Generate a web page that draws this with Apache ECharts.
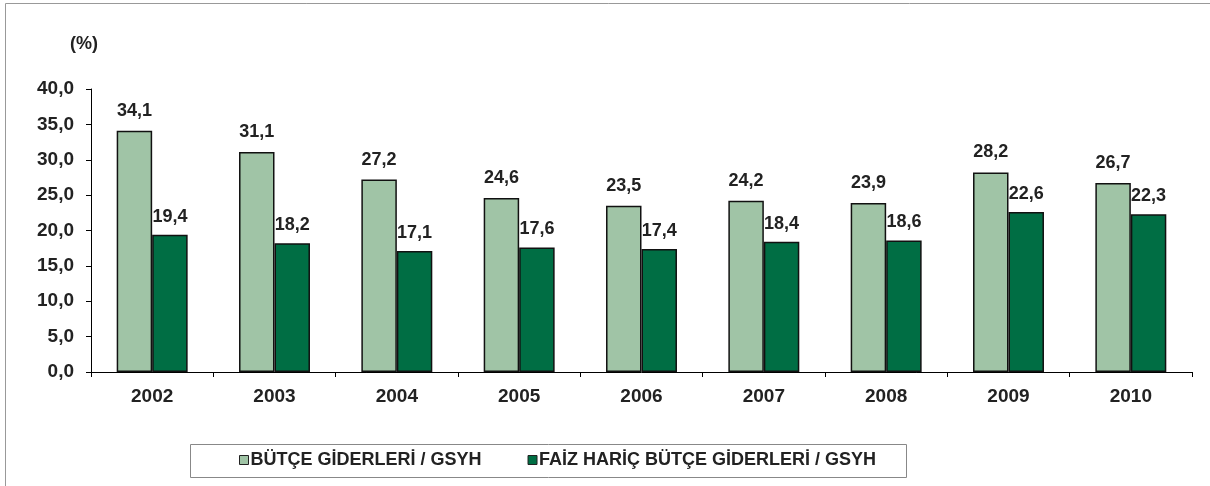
<!DOCTYPE html>
<html>
<head>
<meta charset="utf-8">
<script src="https://cdn.jsdelivr.net/npm/echarts@6/dist/echarts.min.js"></script>
<style>
  html, body { margin: 0; padding: 0; background: #fff; }
  #main { width: 1210px; height: 486px; }
</style>
</head>
<body>
<div id="main"></div>
<script>
// data
const years = ['2002', '2003', '2004', '2005', '2006', '2007', '2008', '2009', '2010'];
const butceGsyh = [34.1, 31.1, 27.2, 24.6, 23.5, 24.2, 23.9, 28.2, 26.7];
const faizHaricGsyh = [19.4, 18.2, 17.1, 17.6, 17.4, 18.4, 18.6, 22.6, 22.3];
const seriesNames = ['BÜTÇE GİDERLERİ / GSYH', 'FAİZ HARİÇ BÜTÇE GİDERLERİ / GSYH'];

const font = 'Liberation Sans, Arial, sans-serif';
const txt = '#222';
const fmt = v => v.toFixed(1).replace('.', ',');

const myChart = echarts.init(document.getElementById('main'));

const option = {
  animation: false,
  textStyle: { fontFamily: font },
  graphic: [
    {
      type: 'rect',
      shape: { x: 5.5, y: 3.5, width: 1400, height: 700 },
      style: { fill: 'none', stroke: '#999', lineWidth: 1 },
      silent: true
    },
    {
      type: 'rect',
      shape: { x: 190.5, y: 444.5, width: 716, height: 33 },
      style: { fill: '#fff', stroke: '#888', lineWidth: 1 },
      silent: true
    },
    {
      type: 'text',
      left: 70, top: 35,
      style: { text: '(%)', fill: txt, font: 'bold 18px ' + font }
    }
  ],
  legend: {
    left: 239, top: 451,
    itemWidth: 9, itemHeight: 9,
    itemGap: 46,
    padding: 0,
    icon: 'rect',
    itemStyle: { borderColor: '#222', borderWidth: 1 },
    textStyle: { color: txt, fontSize: 18, fontWeight: 'bold', fontFamily: font, padding: [0, 0, 0, -3] },
    data: seriesNames
  },
  grid: { left: 91, right: 18, top: 89, bottom: 114 },
  xAxis: {
    type: 'category',
    data: years,
    axisLine: { lineStyle: { color: '#000', width: 1 } },
    axisTick: { show: true, alignWithLabel: false, length: 5, lineStyle: { color: '#000' } },
    axisLabel: { color: txt, fontSize: 19, fontWeight: 'bold', margin: 15 }
  },
  yAxis: {
    type: 'value',
    min: 0, max: 40, interval: 5,
    axisLine: { show: true, lineStyle: { color: '#000', width: 1 } },
    axisTick: { show: true, length: 5, lineStyle: { color: '#000' } },
    splitLine: { show: false },
    axisLabel: { color: txt, fontSize: 19, fontWeight: 'bold', margin: 17, formatter: fmt }
  },
  series: [
    {
      name: seriesNames[0],
      type: 'bar',
      data: butceGsyh,
      barGap: '0%',
      barCategoryGap: '42%',
      itemStyle: { color: '#A0C4A6', borderColor: '#111', borderWidth: 1.5 },
      label: {
        show: true, position: 'top', distance: 11,
        color: txt, fontSize: 18, fontWeight: 'bold',
        formatter: p => fmt(p.value)
      }
    },
    {
      name: seriesNames[1],
      type: 'bar',
      data: faizHaricGsyh,
      itemStyle: { color: '#006E44', borderColor: '#111', borderWidth: 1.5 },
      label: {
        show: true, position: 'top', distance: 9,
        color: txt, fontSize: 18, fontWeight: 'bold',
        formatter: p => fmt(p.value)
      }
    }
  ]
};

myChart.setOption(option);
</script>
</body>
</html>
